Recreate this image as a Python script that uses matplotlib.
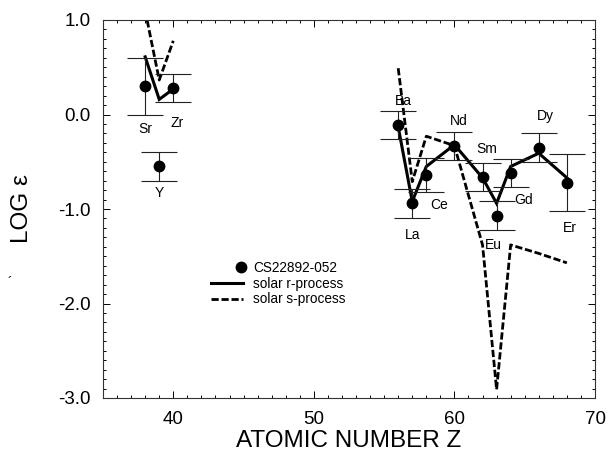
import matplotlib
matplotlib.use('Agg')
import matplotlib.pyplot as plt
from matplotlib.ticker import MultipleLocator, FormatStrFormatter
from matplotlib.lines import Line2D
from matplotlib.legend_handler import HandlerLine2D

plt.rcParams['font.family'] = ['Liberation Sans', 'DejaVu Sans']
plt.rcParams['axes.unicode_minus'] = False

# observed abundances, CS22892-052
elements = ['Sr', 'Y', 'Zr', 'Ba', 'La', 'Ce', 'Nd', 'Sm', 'Eu', 'Gd', 'Dy', 'Er']
z_obs = [38, 39, 40, 56, 57, 58, 60, 62, 63, 64, 66, 68]
log_eps = [0.30, -0.55, 0.28, -0.11, -0.94, -0.64, -0.33, -0.66, -1.07, -0.62, -0.35, -0.72]
err = [0.30, 0.15, 0.15, 0.15, 0.15, 0.18, 0.15, 0.15, 0.15, 0.15, 0.15, 0.30]

# scaled solar r-process (two segments)
z_r_light = [38, 39, 40]
r_light = [0.61, 0.16, 0.27]
z_r_heavy = [56, 57, 58, 60, 62, 63, 64, 66, 68]
r_heavy = [-0.13, -0.92, -0.55, -0.32, -0.67, -0.94, -0.55, -0.41, -0.67]

# scaled solar s-process (two segments)
z_s_light = [38, 39, 40]
s_light = [1.10, 0.365, 0.78]
z_s_heavy = [56, 57, 58, 60, 62, 63, 64, 66, 68]
s_heavy = [0.49, -0.71, -0.23, -0.33, -1.38, -2.91, -1.38, -1.47, -1.57]

# label placement for the element names (data coords)
label_xy = {'Sr': (38.0, -0.15), 'Y': (39.0, -0.83), 'Zr': (40.3, -0.09),
            'Ba': (56.4, 0.14), 'La': (57.0, -1.27), 'Ce': (58.9, -0.96),
            'Nd': (60.3, -0.07), 'Sm': (62.3, -0.36), 'Eu': (62.8, -1.38),
            'Gd': (64.9, -0.91), 'Dy': (66.5, -0.02), 'Er': (68.2, -1.20)}


class MarkerRight(HandlerLine2D):
    # put the legend dot at the right end of the handle, next to the text
    def create_artists(self, legend, orig_handle, xdescent, ydescent,
                       width, height, fontsize, trans):
        arts = super().create_artists(legend, orig_handle, xdescent, ydescent,
                                      width, height, fontsize, trans)
        for a in arts:
            if a.get_marker() not in (None, 'None', '', ' '):
                a.set_xdata([width - xdescent - 2])
        return arts


fig = plt.figure(figsize=(6.09, 4.55), dpi=100)
ax = fig.add_axes([103 / 609, 1 - 398 / 455, 492 / 609, 378 / 455])

ax.plot(z_r_light, r_light, color='black', lw=2.2, solid_joinstyle='miter')
ax.plot(z_r_heavy, r_heavy, color='black', lw=2.2, solid_joinstyle='miter')
ax.plot(z_s_light, s_light, color='black', lw=2.0, dashes=(2.6, 1.0))
ax.plot(z_s_heavy, s_heavy, color='black', lw=2.0, dashes=(2.6, 1.0))
ax.errorbar(z_obs, log_eps, yerr=err, fmt='o', color='black', ms=7.5,
            ecolor='#222222', elinewidth=0.8, capsize=13, capthick=0.8)

for el in elements:
    x, y = label_xy[el]
    ax.text(x, y, el, fontsize=10, ha='center', va='center')

ax.set_xlim(35, 70)
ax.set_ylim(-3.0, 1.0)
ax.xaxis.set_major_locator(MultipleLocator(10))
ax.xaxis.set_minor_locator(MultipleLocator(1))
ax.yaxis.set_major_locator(MultipleLocator(1.0))
ax.yaxis.set_minor_locator(MultipleLocator(0.1))
ax.yaxis.set_major_formatter(FormatStrFormatter('%.1f'))
ax.tick_params(which='both', direction='in', top=True, right=True, width=0.7)
ax.tick_params(which='major', length=5, labelsize=13.5, pad=9)
ax.tick_params(which='minor', length=2.5)
for sp in ax.spines.values():
    sp.set_linewidth(0.8)
    sp.set_color('#333333')

ax.set_xlabel('ATOMIC NUMBER Z', fontsize=17.5, labelpad=2)
ax.set_ylabel('LOG \u03b5', fontsize=17.5)
ax.yaxis.set_label_coords(-0.142, 0.5)

handles = [Line2D([], [], color='black', marker='o', ls='none', ms=7.5),
           Line2D([], [], color='black', lw=2.2),
           Line2D([], [], color='black', lw=2.0, dashes=(2.6, 1.0))]
labels = ['CS22892-052', 'solar r-process', 'solar s-process']
ax.legend(handles, labels, loc='upper left', bbox_to_anchor=(0.219, 0.362),
          frameon=False, fontsize=9.8, handlelength=2.4, handletextpad=0.7,
          labelspacing=0.12, borderpad=0.0, borderaxespad=0.0,
          handler_map={handles[0]: MarkerRight()})

# small scanning speck left of the axis
fig.text(10 / 609, 1 - 283 / 455, '\u00b4', fontsize=10, ha='center', va='center')

fig.savefig('out.png', dpi=100)
